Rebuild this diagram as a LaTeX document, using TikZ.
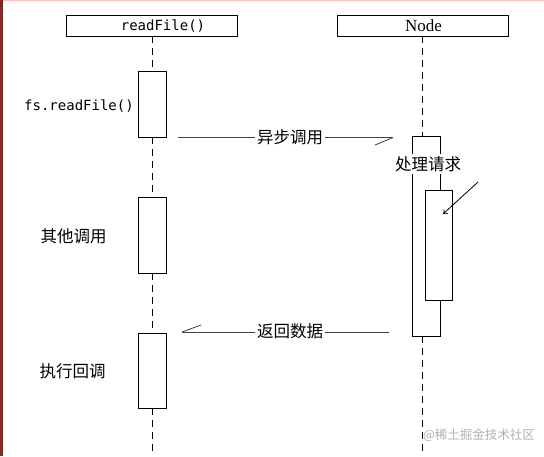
\documentclass[tikz,border=0pt]{standalone}
\usepackage{fontspec}
\setmainfont{Liberation Serif}
\newfontfamily\cjkf{Noto Sans CJK SC}
\newfontfamily\monof{DejaVu Sans Mono}
\usetikzlibrary{arrows.meta}
\begin{document}
\begin{tikzpicture}[x=1pt,y=-1pt,
  line width=0.9pt,
  hdrbox/.style={draw, fill=white, minimum width=171pt, minimum height=21pt, inner sep=0pt},
  actbox/.style={draw, fill=white, minimum width=28pt, inner sep=0pt},
  life/.style={dash pattern=on 7pt off 5pt, line width=0.9pt},
  cjklbl/.style={font=\cjkf\fontsize{16.5}{18}\selectfont, inner sep=1pt},
  msglbl/.style={cjklbl, fill=white, inner sep=2pt},
  monolbl/.style={font=\monof\fontsize{14}{16}\selectfont, inner sep=0pt},
  msg/.style={line width=0.8pt, color=black!75}
]
\useasboundingbox (0,0) rectangle (544,456);
\fill[white] (0,0) rectangle (544,456);
\fill[red!25!white] (0,0) rectangle (544,1.2);
\fill[red!45!black!85] (0,0) rectangle (3,456);

% headers
\node[hdrbox] (H1) at (152,25.5) {};
\node[monolbl] (H1t) at (163,26) {readFile()};
\node[hdrbox] (H2) at (422.5,25.5) {};
\node[font=\fontsize{17}{19}\selectfont, inner sep=0pt] (H2t) at (423.5,26) {Node};

% left activations
\node[actbox, minimum height=66pt] (L1) at (152,104) {};
\node[actbox, minimum height=76pt] (L2) at (152,235) {};
\node[actbox, minimum height=75pt] (L3) at (152,370.5) {};
\coordinate (Lend) at (152,456);

% right activations
\node[actbox, minimum height=200pt] (O) at (426,236) {};
\node[msglbl, fill=white] (Ot) at (428,164) {处理请求};
\node[actbox, minimum width=27pt, minimum height=110pt] (I) at (438.5,245) {};
\coordinate (Rend) at (422.5,456);

% lifelines
\draw[life] (H1.south) -- (L1.north);
\draw[life] (L1.south) -- (L2.north);
\draw[life] (L2.south) -- (L3.north);
\draw[life] (L3.south) -- (Lend);
\draw[life] (H2.south) -- (H2.south |- O.north);
\draw[life] (H2.south |- O.south) -- (Rend);

% left labels
\node[monolbl] (t1) at (79,106) {fs.readFile()};
\node[cjklbl] (t2) at (73.5,236) {其他调用};
\node[cjklbl] (t3) at (72.5,371) {执行回调};

% async call
\coordinate (a1s) at (178,137.5);
\coordinate (a1e) at (393,137.5);
\draw[msg] (a1s) -- (a1e);
\draw[msg] (a1e) -- ++(-18,7.5);
\node[msglbl] (a1l) at (290,137) {异步调用};

% return
\coordinate (a2s) at (389,332);
\coordinate (a2e) at (182,332);
\draw[msg] (a2s) -- (a2e);
\draw[msg] (a2e) -- ++(19,-7);
\node[msglbl] (a2l) at (290,331.5) {返回数据};

% pointer into inner box
\coordinate (p1) at (478,182);
\coordinate (p2) at (443,214);
\draw[line width=0.8pt, -{To[length=4pt,width=6pt]}] (p1) -- (p2);

% watermark
\node[font=\cjkf\fontsize{12.5}{14}\selectfont, text=black!30, inner sep=0pt] (wm) at (479,435) {@稀土掘金技术社区};
\end{tikzpicture}
\end{document}
